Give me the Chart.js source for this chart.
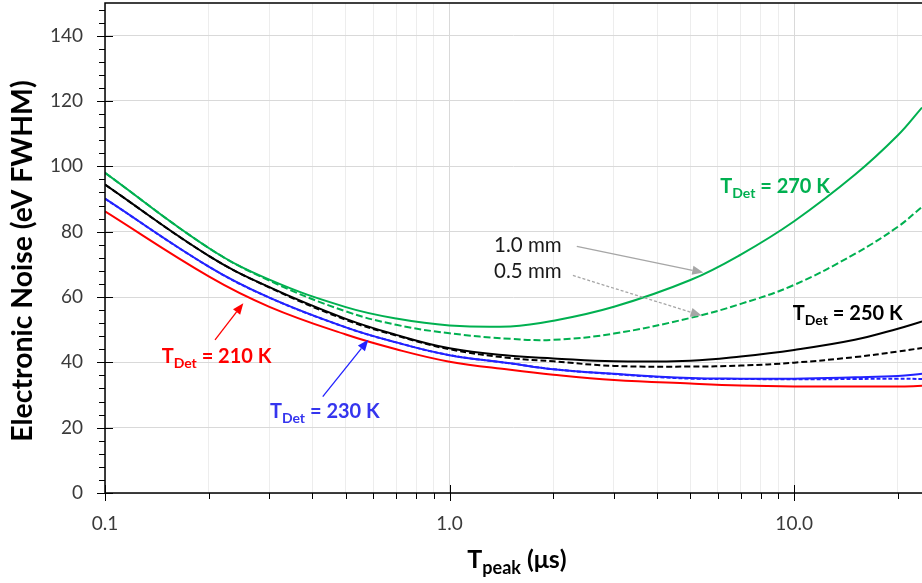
<!DOCTYPE html>
<html>
<head>
<meta charset="utf-8">
<script src="https://cdn.jsdelivr.net/npm/chart.js@4.4.1/dist/chart.umd.min.js"></script>
<style>
  body { margin: 0; background: #fff; }
  #wrap { width: 922px; height: 583px; }
</style>
</head>
<body>
<div id="wrap"><canvas id="chart"></canvas></div>
<script>
// peaking time (us)
const tpeak = [0.1, 0.2, 0.3, 0.5, 0.7, 1, 1.5, 2, 3, 5, 7, 10, 15, 20, 23.5];

// electronic noise (eV FWHM), 1.0 mm and 0.5 mm detectors
const t270_10 = [98.0, 75.0, 65.3, 56.9, 53.4, 51.3, 51.0, 52.7, 57.0, 65.2, 73.0, 83.2, 97.4, 109.5, 118.0];
const t270_05 = [98.0, 75.0, 65.0, 55.6, 51.5, 48.9, 47.2, 46.9, 48.8, 53.6, 57.9, 63.7, 73.2, 81.5, 87.6];
const t250_10 = [94.4, 72.6, 63.0, 53.3, 48.4, 44.3, 42.0, 41.2, 40.3, 40.5, 41.8, 43.8, 46.9, 50.3, 52.5];
const t250_05 = [94.4, 72.6, 62.9, 53.0, 48.2, 44.0, 41.3, 40.3, 38.9, 38.7, 39.0, 39.9, 41.6, 43.3, 44.4];
const t230_10 = [90.1, 69.3, 59.8, 50.7, 46.1, 42.2, 39.7, 37.9, 36.5, 35.2, 35.0, 35.0, 35.4, 35.8, 36.5];
const t230_05 = [90.1, 69.3, 59.8, 50.7, 46.1, 42.2, 39.7, 37.9, 36.4, 35.0, 34.9, 34.8, 34.9, 35.0, 34.9];
const t210_10 = [86.2, 66.3, 57.0, 48.5, 44.0, 40.2, 37.7, 36.2, 34.6, 33.5, 32.9, 32.6, 32.6, 32.6, 32.8];

const xTickValues = [0.1, 0.2, 0.3, 0.4, 0.5, 0.6, 0.7, 0.8, 0.9, 1, 2, 3, 4, 5, 6, 7, 8, 9, 10, 20];
const xDecades = [0.1, 1, 10];
const xDecadeLabels = ["0.1", "1.0", "10.0"];
const yTickValues = [0, 20, 40, 60, 80, 100, 120, 140];

const GREEN = "#00b050";
const RED = "#ff0000";
const BLUE = "#2222ff";
const FONT = "Lato, 'Open Sans', sans-serif";

// text labels and arrows, placed in data units
const labels = [
  { x: 6.1, y: 91.9, color: GREEN, sub: "Det", rest: " = 270 K" },
  { x: 9.91, y: 53.0, color: "#000", sub: "Det", rest: " = 250 K" },
  { x: 0.146, y: 39.7, color: RED, sub: "Det", rest: " = 210 K" },
  { x: 0.301, y: 22.9, color: "#3535ee", sub: "Det", rest: " = 230 K" },
];
const plainLabels = [
  { x: 1.346, y: 73.8, text: "1.0 mm" },
  { x: 1.346, y: 65.8, text: "0.5 mm" },
];
const arrows = [
  { from: [2.34, 75.5], to: [5.45, 67.5], color: "#a6a6a6", dash: [] },
  { from: [2.28, 66.6], to: [5.39, 54.3], color: "#a6a6a6", dash: [3, 2] },
  { from: [0.2086, 46.9], to: [0.252, 58.1], color: RED, dash: [] },
  { from: [0.4285, 29.5], to: [0.581, 46.9], color: BLUE, dash: [] },
];

function series(values, color, dash) {
  return {
    data: tpeak.map((t, i) => ({ x: t, y: values[i] })),
    borderColor: color,
    borderDash: dash,
    borderWidth: 2,
    pointRadius: 0,
    fill: false,
    tension: 0.4,
  };
}

function arrow(ctx, x1, y1, x2, y2, color, dash) {
  const a = Math.atan2(y2 - y1, x2 - x1);
  const hl = 11, hw = 4.5;
  ctx.save();
  ctx.strokeStyle = color;
  ctx.fillStyle = color;
  ctx.lineWidth = 1.3;
  ctx.setLineDash(dash);
  ctx.beginPath();
  ctx.moveTo(x1, y1);
  ctx.lineTo(x2 - hl * Math.cos(a), y2 - hl * Math.sin(a));
  ctx.stroke();
  ctx.setLineDash([]);
  ctx.beginPath();
  ctx.moveTo(x2, y2);
  ctx.lineTo(x2 - hl * Math.cos(a) + hw * Math.sin(a), y2 - hl * Math.sin(a) - hw * Math.cos(a));
  ctx.lineTo(x2 - hl * Math.cos(a) - hw * Math.sin(a), y2 - hl * Math.sin(a) + hw * Math.cos(a));
  ctx.closePath();
  ctx.fill();
  ctx.restore();
}

// main text, subscript, rest of text; returns total width
function richText(ctx, x, y, main, sub, rest, big, small, drop, draw) {
  ctx.font = "bold " + big + "px " + FONT;
  const w1 = ctx.measureText(main).width;
  if (draw) ctx.fillText(main, x, y);
  ctx.font = "bold " + small + "px " + FONT;
  const w2 = ctx.measureText(sub).width;
  if (draw) ctx.fillText(sub, x + w1, y + drop);
  ctx.font = "bold " + big + "px " + FONT;
  const w3 = ctx.measureText(rest).width;
  if (draw) ctx.fillText(rest, x + w1 + w2, y);
  return w1 + w2 + w3;
}

const decorations = {
  id: "decorations",
  afterDraw(chart) {
    const { ctx, chartArea: a, scales } = chart;
    const xs = scales.x, ys = scales.y;
    ctx.save();

    // axis lines and top border
    ctx.strokeStyle = "#000";
    ctx.lineWidth = 1.5;
    ctx.beginPath();
    ctx.moveTo(a.right, a.top);
    ctx.lineTo(a.left, a.top);
    ctx.lineTo(a.left, a.bottom);
    ctx.lineTo(a.right, a.bottom);
    ctx.stroke();

    // tick marks
    ctx.lineWidth = 1;
    ctx.beginPath();
    for (let v = 0; v <= 148; v += 4) {
      const py = Math.round(ys.getPixelForValue(v)) + 0.5;
      if (v % 20 === 0) {
        ctx.moveTo(a.left - 8, py); ctx.lineTo(a.left + 8, py);
      } else {
        ctx.moveTo(a.left - 6, py); ctx.lineTo(a.left, py);
      }
    }
    xTickValues.forEach(v => {
      const px = Math.round(xs.getPixelForValue(v)) + 0.5;
      if (xDecades.includes(v)) {
        ctx.moveTo(px, a.bottom - 8); ctx.lineTo(px, a.bottom + 8);
      } else {
        ctx.moveTo(px, a.bottom); ctx.lineTo(px, a.bottom + 6);
      }
    });
    ctx.stroke();

    // axis titles
    ctx.fillStyle = "#000";
    ctx.textBaseline = "alphabetic";
    const xTitleW = richText(ctx, 0, 0, "T", "peak", " (\u03bcs)", 25, 18, 6, false);
    richText(ctx, 517 - xTitleW / 2, 568, "T", "peak", " (\u03bcs)", 25, 18, 6, true);

    ctx.save();
    ctx.translate(32, 261);
    ctx.rotate(-Math.PI / 2);
    ctx.font = "bold 22px " + FONT;
    const yTitle = "Electronic Noise (eV FWHM)";
    const fit = 22 * 362 / ctx.measureText(yTitle).width;
    ctx.font = "bold " + fit.toFixed(1) + "px " + FONT;
    ctx.textAlign = "center";
    ctx.fillText(yTitle, 0, 0);
    ctx.restore();

    // arrows
    arrows.forEach(ar => {
      arrow(ctx,
        xs.getPixelForValue(ar.from[0]), ys.getPixelForValue(ar.from[1]),
        xs.getPixelForValue(ar.to[0]), ys.getPixelForValue(ar.to[1]),
        ar.color, ar.dash);
    });

    // temperature labels
    labels.forEach(l => {
      ctx.fillStyle = l.color;
      richText(ctx, xs.getPixelForValue(l.x), ys.getPixelForValue(l.y), "T", l.sub, l.rest, 20, 14, 5, true);
    });

    ctx.fillStyle = "#1a1a1a";
    ctx.font = "20.5px " + FONT;
    plainLabels.forEach(l => {
      ctx.fillText(l.text, xs.getPixelForValue(l.x), ys.getPixelForValue(l.y));
    });

    ctx.restore();
  },
};

new Chart(document.getElementById("chart"), {
  type: "line",
  data: {
    datasets: [
      series(t270_10, GREEN, []),
      series(t270_05, GREEN, [7, 3]),
      series(t250_10, "#000", []),
      series(t250_05, "#000", [6, 3]),
      series(t230_10, BLUE, []),
      series(t230_05, BLUE, [4, 2]),
      series(t210_10, RED, []),
    ],
  },
  options: {
    responsive: true,
    maintainAspectRatio: false,
    animation: false,
    layout: { padding: { top: 3, left: 0, right: 0, bottom: 0 } },
    plugins: {
      legend: { display: false },
      tooltip: { enabled: false },
    },
    scales: {
      x: {
        type: "logarithmic",
        min: 0.1,
        max: 23.5,
        afterBuildTicks: (s) => {
          s.ticks = xTickValues.map(v => ({ value: v }));
        },
        afterFit: (s) => {
          s.height = 90;
          s.paddingLeft = 0;
          s.paddingRight = 0;
        },
        ticks: {
          autoSkip: false,
          maxRotation: 0,
          padding: 19,
          color: "#3a3a3a",
          font: { family: FONT, size: 19 },
          callback: (v) => {
            const i = xDecades.indexOf(v);
            return i >= 0 ? xDecadeLabels[i] : "";
          },
        },
        grid: {
          drawTicks: false,
          color: (c) => (c.tick && xDecades.includes(c.tick.value) ? "#d9d9d9" : "#ededed"),
          lineWidth: 1,
        },
        border: { display: false },
      },
      y: {
        min: 0,
        max: 150,
        afterBuildTicks: (s) => {
          s.ticks = yTickValues.map(v => ({ value: v }));
        },
        afterFit: (s) => {
          s.width = 105;
          s.paddingTop = 0;
          s.paddingBottom = 0;
        },
        ticks: {
          padding: 22,
          color: "#3a3a3a",
          font: { family: FONT, size: 19 },
        },
        grid: {
          drawTicks: false,
          color: "#d9d9d9",
          lineWidth: 1,
        },
        border: { display: false },
      },
    },
  },
  plugins: [decorations],
});
</script>
</body>
</html>
